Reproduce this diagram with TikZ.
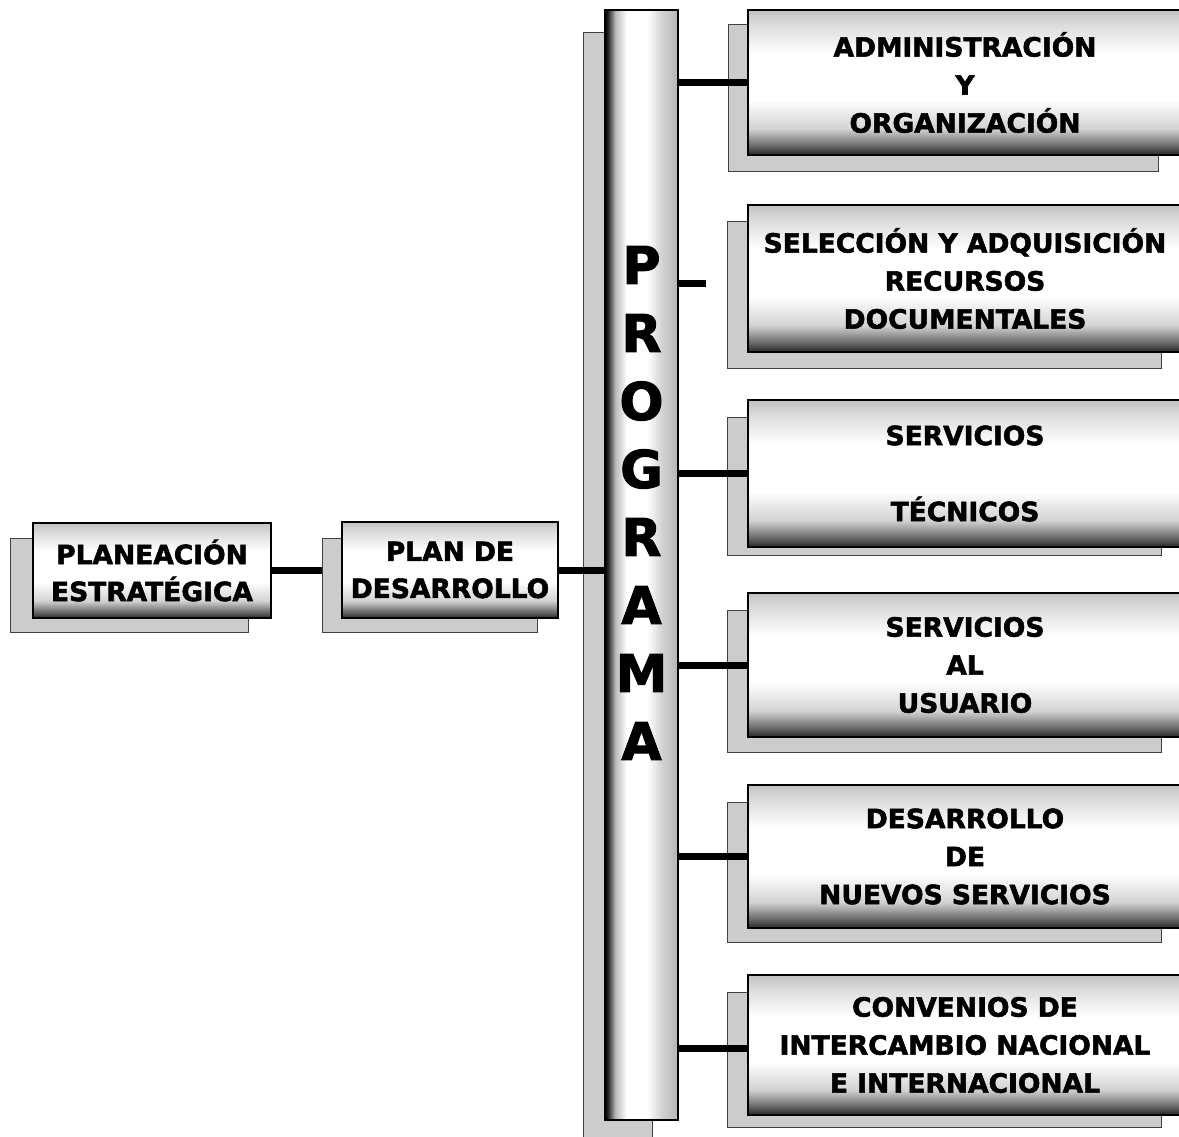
\documentclass[tikz,border=0pt]{standalone}
\usepackage{fontspec}
\newfontfamily\labelfont{DejaVu Sans}[BoldFeatures={FakeBold=2}]
\usetikzlibrary{calc}

% front boxes: grey top, white middle, dark bottom band
\pgfdeclareverticalshading{boxshade}{100bp}{%
  color(0bp)=(black!85); color(25bp)=(black!85); color(28bp)=(black!60);
  color(34bp)=(gray!35); color(44bp)=(white); color(60bp)=(white);
  color(70bp)=(gray!28); color(75bp)=(gray!48); color(100bp)=(gray!48)}
% the vertical PROGRAMA column: dark left edge, white core, grey right side
\pgfdeclarehorizontalshading{colshade}{100bp}{%
  color(0bp)=(black); color(25bp)=(black); color(27bp)=(black!85);
  color(32bp)=(gray!55); color(40bp)=(white); color(54bp)=(white);
  color(64bp)=(gray!35); color(75bp)=(gray!58); color(100bp)=(gray!58)}

\tikzset{
  shadowbox/.style={draw=black!75, line width=1, fill=gray!40, inner sep=0},
  frontbox/.style={draw=black, line width=2, shading=boxshade, inner sep=0,
    align=center, font=\labelfont\bfseries\fontsize{26.5}{38}\selectfont},
  smallfront/.style={frontbox, font=\labelfont\bfseries\fontsize{26.5}{37}\selectfont},
  column/.style={draw=black, line width=2, shading=colshade, inner sep=0},
  link/.style={line width=7, black},
}

\begin{document}
\begin{tikzpicture}[x=1pt, y=-1pt]
\useasboundingbox (0,0) rectangle (1179,1137);

% ---- back (shadow) plates ----
\node[shadowbox, minimum width=238, minimum height=94] (s-plan) at (129,585) {};
\node[shadowbox, minimum width=215, minimum height=94] (s-des) at (429.5,585) {};
\node[shadowbox, minimum width=69, minimum height=1120] (s-prog) at (617.5,593) {};
\node[shadowbox, minimum width=430, minimum height=147] (s1) at (943,98.5) {};
\node[shadowbox, minimum width=434, minimum height=146] (s2) at (944.5,295) {};
\node[shadowbox, minimum width=434, minimum height=138] (s3) at (944.5,486) {};
\node[shadowbox, minimum width=434, minimum height=142] (s4) at (944.5,681) {};
\node[shadowbox, minimum width=434, minimum height=140] (s5) at (944.5,872) {};
\node[shadowbox, minimum width=434, minimum height=135] (s6) at (944.5,1059.5) {};

% ---- front plates ----
\node[smallfront, minimum width=238, minimum height=95] (plan) at (152,570.5)
  {PLANEACIÓN\\ESTRATÉGICA};
\node[smallfront, minimum width=216, minimum height=96] (des) at (450,570)
  {PLAN DE\\DESARROLLO};

\node[column, minimum width=73, minimum height=1110] (prog) at (641.5,565) {};
\node[inner sep=0, align=center,
  font=\labelfont\bfseries\fontsize{52}{68}\selectfont] (progtxt) at (641.5,503)
  {P\\R\\O\\G\\R\\A\\M\\A};

\node[frontbox, minimum width=434, minimum height=145] (b1) at (965,82.5)
  {ADMINISTRACIÓN\\Y\\ORGANIZACIÓN};
\node[frontbox, minimum width=434, minimum height=147] (b2) at (965,278.5)
  {SELECCIÓN Y ADQUISICIÓN\\RECURSOS\\DOCUMENTALES};
\node[frontbox, minimum width=434, minimum height=147] (b3) at (965,473.5)
  {SERVICIOS\\\mbox{}\\TÉCNICOS};
\node[frontbox, minimum width=434, minimum height=144] (b4) at (965,665)
  {SERVICIOS\\AL\\USUARIO};
\node[frontbox, minimum width=434, minimum height=143] (b5) at (965,856.5)
  {DESARROLLO\\DE\\NUEVOS SERVICIOS};
\node[frontbox, minimum width=434, minimum height=140] (b6) at (965,1045)
  {CONVENIOS DE\\INTERCAMBIO NACIONAL\\E INTERNACIONAL};

% ---- connectors ----
\draw[link] (plan.east) -- (s-des.west |- plan.east);
\draw[link] (des.east) -- (prog.west |- des.east);
\draw[link] (prog.east |- b1.west) -- (b1.west);
\coordinate (stub) at (706,283);
\draw[link] (prog.east |- stub) -- (stub);
\draw[link] (prog.east |- b3.west) -- (b3.west);
\draw[link] (prog.east |- b4.west) -- (b4.west);
\draw[link] (prog.east |- b5.west) -- (b5.west);
\draw[link] (prog.east |- 0,1048) -- (b6.west |- 0,1048);
\end{tikzpicture}
\end{document}
